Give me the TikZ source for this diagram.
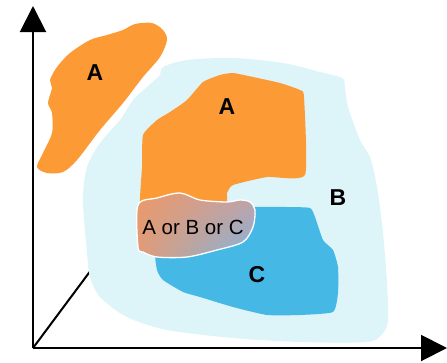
\documentclass[tikz,border=0pt]{standalone}
\usepackage{fontspec}
\setmainfont{Liberation Sans}
\usetikzlibrary{arrows.meta,shadings}
\definecolor{orng}{HTML}{FC9A35}
\definecolor{lblue}{HTML}{DDF4F8}
\definecolor{cblue}{HTML}{45B8E6}
\definecolor{gUL}{HTML}{EA9A68}
\definecolor{gUR}{HTML}{C6A0A4}
\definecolor{gLL}{HTML}{E29A78}
\definecolor{gLR}{HTML}{7EB6E2}
\tikzset{
  axis/.style={line width=2pt, -{Triangle[length=26pt,width=26pt]}},
  axisline/.style={line width=2pt},
  biglabel/.style={font=\fontsize{23}{23}\selectfont\bfseries, inner sep=0pt},
  mixlabel/.style={font=\fontsize{20.5}{21}\selectfont, inner sep=0pt},
}
\begin{document}
\begin{tikzpicture}[x=1pt,y=-1pt]
\useasboundingbox (0,0) rectangle (447,362);
\clip (0,0) rectangle (447,362);
\coordinate (O) at (33,348);
\coordinate (Ytip) at (33,6);
\coordinate (Xtip) at (447,348);
\coordinate (Z) at (100,258);
% diagonal axis (hidden under blob)
\draw[axisline] (O) -- (Z);
% B region
\fill[lblue] plot[smooth cycle, tension=0.5] coordinates {
 (163,67) (187,60) (233,58) (283,63) (320,72) (342,78) (345,87) (348,107)
 (360,140) (370,157) (377,187) (383,233) (387,283) (388,320) (383,333)
 (367,342) (300,342) (233,338) (167,330) (127,317) (100,297) (90,277)
 (87,253) (83,200) (87,167) (100,143) (120,120) (133,100) (147,87) (160,75)};
% A top-left
\fill[orng] plot[smooth cycle, tension=0.5] coordinates {
 (135,24) (152,23) (163,30) (167,40) (160,57) (143,77) (123,103) (100,130)
 (77,160) (63,172) (47,173) (37,167) (43,153) (52,133) (52,113) (48,103)
 (52,88) (50,80) (57,67) (70,53) (90,40) (107,35) (123,30)};
% A main
\fill[orng] plot[smooth cycle, tension=0.3] coordinates {
 (143,135) (157,120) (170,112) (187,100) (203,82) (220,75) (233,73) (253,77)
 (280,83) (300,90) (304,97) (305,175) (267,177) (233,185) (227,193) (226,202)
 (200,204) (180,204) (153,206) (140,207) (142,167)};
% C
\fill[cblue] plot[smooth cycle, tension=0.3] coordinates {
 (157,250) (200,230) (240,208) (287,207) (310,208) (315,217) (323,240)
 (333,250) (338,267) (338,293) (333,312) (300,315) (267,315) (233,307)
 (200,297) (183,292) (163,280) (157,270)};
% mixed region
\shade[upper left=gUL, upper right=gUR, lower left=gLL, lower right=gLR,
  draw=white, line width=1.3pt] plot[smooth cycle, tension=0.5] coordinates {
 (138,205) (157,198) (180,193) (200,200) (227,202) (240,200) (250,202)
 (255,210) (253,227) (243,242) (217,250) (187,257) (157,257) (143,252) (138,247)};
% labels
\node[biglabel] (la1) at (95,73) {A};
\node[biglabel] (la2) at (227,107) {A};
\node[biglabel] (lb) at (338,198) {B};
\node[biglabel] (lc) at (257,275) {C};
\node[mixlabel] (lmix) at (193,227) {A or B or C};
% axes
\draw[axis] (O) -- (Ytip);
\draw[axis] (O) -- (Xtip);
\end{tikzpicture}
\end{document}
